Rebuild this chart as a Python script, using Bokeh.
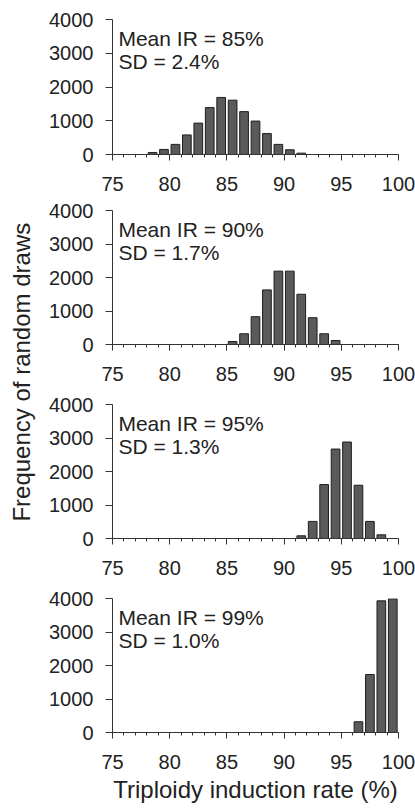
import math
from bokeh.plotting import figure
from bokeh.models import Range1d, SingleIntervalTicker, Label, ColumnDataSource
from bokeh.layouts import row, column
from bokeh.embed import file_html
from bokeh.resources import INLINE

# ---- data ----
rate_1 = [78.5, 79.5, 80.5, 81.5, 82.5, 83.5, 84.5, 85.5, 86.5, 87.5, 88.5, 89.5, 90.5, 91.5]
freq_1 = [60, 150, 300, 580, 930, 1390, 1690, 1610, 1270, 990, 620, 300, 140, 40]

rate_2 = [85.5, 86.5, 87.5, 88.5, 89.5, 90.5, 91.5, 92.5, 93.5, 94.5]
freq_2 = [90, 320, 830, 1630, 2190, 2190, 1500, 800, 320, 120]

rate_3 = [91.5, 92.5, 93.5, 94.5, 95.5, 96.5, 97.5, 98.5]
freq_3 = [80, 510, 1610, 2670, 2880, 1590, 510, 110]

rate_4 = [96.5, 97.5, 98.5, 99.5]
freq_4 = [320, 1730, 3930, 3990]

mean_ir = ["85%", "90%", "95%", "99%"]
sd_val = ["2.4%", "1.7%", "1.3%", "1.0%"]

x_label = "Triploidy induction rate (%)"
y_label = "Frequency of random draws"

FONT = "Liberation Sans"
TXT = "#222222"


def make_panel(rates, freqs, mean, sd, height, top, bottom, show_xlabel=False):
    p = figure(width=373, height=height, output_backend="svg", toolbar_location=None,
               x_range=Range1d(75, 100), y_range=Range1d(0, 4000),
               min_border_left=70, min_border_right=17,
               min_border_top=top, min_border_bottom=bottom)
    p.grid.visible = False
    p.outline_line_color = None
    src = ColumnDataSource(dict(x=rates, top=freqs))
    p.vbar(x="x", top="top", bottom=0, width=0.76, source=src,
           fill_color="#5a5a5a", line_color="#1e1e1e", line_width=1)

    xa = p.xaxis[0]
    xa.ticker = SingleIntervalTicker(interval=5, num_minor_ticks=5)
    xa.major_tick_out = 6
    xa.major_tick_in = 0
    xa.minor_tick_out = 3
    xa.minor_tick_in = 0
    xa.major_label_standoff = 16
    ya = p.yaxis[0]
    ya.ticker = SingleIntervalTicker(interval=1000, num_minor_ticks=0)
    ya.major_tick_out = 7
    ya.major_tick_in = 0
    ya.minor_tick_line_color = None
    ya.major_label_standoff = 12
    for ax in (xa, ya):
        ax.axis_line_color = "#333333"
        ax.major_tick_line_color = "#333333"
        ax.major_label_text_font = FONT
        ax.major_label_text_font_size = "20px"
        ax.major_label_text_color = TXT
    xa.minor_tick_line_color = "#333333"
    if show_xlabel:
        xa.axis_label = x_label
        xa.axis_label_text_font = FONT
        xa.axis_label_text_font_size = "24px"
        xa.axis_label_text_font_style = "normal"
        xa.axis_label_text_color = TXT
        xa.axis_label_standoff = 4

    for txt, yv in ((f"Mean IR = {mean}", 3440), (f"SD = {sd}", 2760)):
        p.add_layout(Label(x=75.52, y=yv, text=txt, text_font=FONT,
                           text_font_size="21px", text_color=TXT,
                           text_baseline="alphabetic", text_align="left"))
    return p


p1 = make_panel(rate_1, freq_1, mean_ir[0], sd_val[0], 200, 19, 46)
p2 = make_panel(rate_2, freq_2, mean_ir[1], sd_val[1], 193, 10, 49)
p3 = make_panel(rate_3, freq_3, mean_ir[2], sd_val[2], 193, 11, 48)
p4 = make_panel(rate_4, freq_4, mean_ir[3], sd_val[3], 222, 12, 76, show_xlabel=True)

ylab = figure(width=42, height=808, output_backend="svg", toolbar_location=None,
              x_range=Range1d(0, 1), y_range=Range1d(0, 1),
              x_axis_location=None, y_axis_location=None,
              min_border=0, min_border_left=0, min_border_right=0,
              min_border_top=0, min_border_bottom=0)
ylab.grid.visible = False
ylab.outline_line_color = None
ylab.add_layout(Label(x=0.5, y=0.54, text=y_label, angle=math.pi / 2,
                      text_font=FONT, text_font_size="24px", text_color=TXT,
                      text_align="center", text_baseline="middle"))

layout = row(ylab, column(p1, p2, p3, p4))

open("out.html", "w").write(file_html(layout, INLINE))
